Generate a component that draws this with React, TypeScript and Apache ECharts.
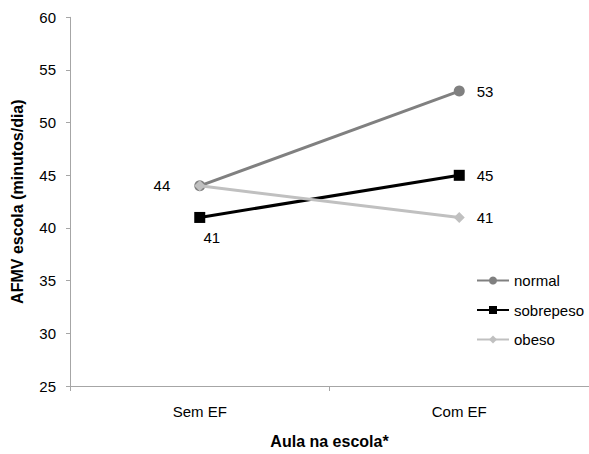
import React, { useEffect, useRef } from "react";
import * as echarts from "echarts";

const categories = ["Sem EF", "Com EF"];
const normal = [44, 53];
const sobrepeso = [41, 45];
const obeso = [44, 41];

const FONT = "Liberation Sans, Arial, sans-serif";

export default function App() {
  const ref = useRef<HTMLDivElement>(null);
  useEffect(() => {
    if (!ref.current) return;
    const chart = echarts.init(ref.current, null, { renderer: "svg" });
    const lbl = (pos: string, offset?: number[]) => ({
      show: true,
      position: pos,
      distance: 12,
      offset: offset || [0, 0],
      color: "#000",
      fontSize: 15,
      fontFamily: FONT,
    });
    chart.setOption({
      animation: false,
      backgroundColor: "#fff",
      textStyle: { fontFamily: FONT },
      grid: { left: 70, right: 0, top: 17.3, bottom: 66.3, containLabel: false },
      legend: {
        orient: "vertical",
        left: 471,
        top: 268,
        itemGap: 14.5,
        itemWidth: 32,
        itemHeight: 10,
        textStyle: { fontSize: 15, fontFamily: FONT, color: "#000" },
        data: ["normal", "sobrepeso", "obeso"],
      },
      xAxis: {
        type: "category",
        data: categories,
        boundaryGap: true,
        name: "Aula na escola*",
        nameLocation: "middle",
        nameGap: 47,
        nameTextStyle: { fontSize: 16, fontWeight: "bold", color: "#000", fontFamily: FONT },
        axisLine: { lineStyle: { color: "#a6a6a6", width: 1 } },
        axisTick: { show: true, length: 5, lineStyle: { color: "#a6a6a6" } },
        axisLabel: { fontSize: 15, color: "#000", margin: 18, fontFamily: FONT },
      },
      yAxis: {
        type: "value",
        min: 25,
        max: 60,
        interval: 5,
        name: "AFMV escola (minutos/dia)",
        nameLocation: "middle",
        nameGap: 45,
        nameTextStyle: { fontSize: 16, fontWeight: "bold", color: "#000", fontFamily: FONT },
        axisLine: { show: true, lineStyle: { color: "#a6a6a6", width: 1 } },
        axisTick: { show: true, length: 4, lineStyle: { color: "#a6a6a6" } },
        splitLine: { show: false },
        axisLabel: { fontSize: 15, color: "#000", margin: 14, fontFamily: FONT },
      },
      series: [
        {
          name: "normal",
          type: "line",
          data: [
            { value: normal[0], label: lbl("left", [-12, 0]) },
            { value: normal[1], label: lbl("right") },
          ],
          symbol: "circle",
          symbolSize: 11,
          color: "#808080",
          lineStyle: { width: 3, color: "#808080" },
          itemStyle: { color: "#808080" },
          z: 3,
        },
        {
          name: "sobrepeso",
          type: "line",
          data: [
            { value: sobrepeso[0], label: lbl("bottom", [12, -5]) },
            { value: sobrepeso[1], label: lbl("right") },
          ],
          symbol: "rect",
          symbolSize: 11,
          color: "#000",
          lineStyle: { width: 3, color: "#000" },
          itemStyle: { color: "#000" },
          z: 4,
        },
        {
          name: "obeso",
          type: "line",
          data: [
            { value: obeso[0], label: { show: false } },
            { value: obeso[1], label: lbl("right") },
          ],
          symbol: "diamond",
          symbolSize: 11,
          color: "#c0c0c0",
          lineStyle: { width: 3, color: "#c0c0c0" },
          itemStyle: { color: "#c0c0c0" },
          z: 5,
        },
      ],
    });
    return () => chart.dispose();
  }, []);
  return <div ref={ref} style={{ width: 589, height: 454, position: "absolute", left: 0, top: 0 }} />;
}
